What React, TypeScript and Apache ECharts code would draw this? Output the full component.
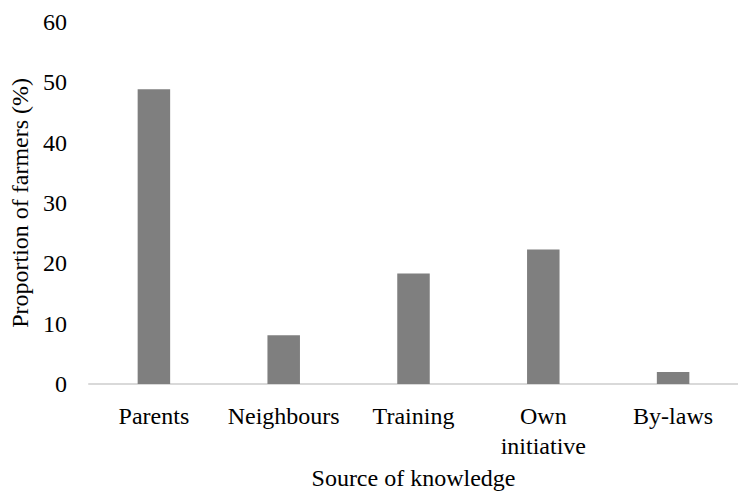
import React, { useEffect, useRef } from "react";
import * as echarts from "echarts";

// Sources from which farmers obtained their knowledge
const categories: string[] = ["Parents", "Neighbours", "Training", "Own initiative", "By-laws"];
// Share of farmers citing each source (%)
const proportions: number[] = [48.8, 8.1, 18.3, 22.3, 2.0];

const yMin = 0;
const yMax = 60;
const yStep = 10;

const FONT = "'Liberation Serif', 'Times New Roman', serif";

export default function App() {
  const ref = useRef<HTMLDivElement>(null);

  useEffect(() => {
    if (!ref.current) return;
    const chart = echarts.init(ref.current, undefined, { renderer: "svg" });
    chart.setOption({
      animation: false,
      backgroundColor: "#ffffff",
      textStyle: { fontFamily: FONT, color: "#000" },
      grid: { left: 89, right: -6, top: 21.7, bottom: 93.3, containLabel: false },
      xAxis: {
        type: "category",
        data: categories,
        name: "Source of knowledge",
        nameLocation: "middle",
        nameGap: 69,
        nameTextStyle: { fontFamily: FONT, fontSize: 24, color: "#000" },
        axisLine: { show: true, lineStyle: { color: "#d9d9d9", width: 2 } },
        axisTick: { show: false },
        axisLabel: {
          fontFamily: FONT,
          fontSize: 24,
          color: "#000",
          margin: 17,
          lineHeight: 30,
          interval: 0,
          formatter: (v: string) => v.replace(" ", "\n"),
        },
      },
      yAxis: {
        type: "value",
        min: yMin,
        max: yMax,
        interval: yStep,
        name: "Proportion of farmers (%)",
        nameLocation: "middle",
        nameGap: 56,
        nameTextStyle: { fontFamily: FONT, fontSize: 24, color: "#000" },
        axisLine: { show: false },
        axisTick: { show: false },
        splitLine: { show: false },
        axisLabel: { fontFamily: FONT, fontSize: 24, color: "#000", margin: 22 },
      },
      series: [
        {
          type: "bar",
          data: proportions,
          barWidth: 32.5,
          itemStyle: { color: "#7f7f7f" },
        },
      ],
    });
    return () => chart.dispose();
  }, []);

  return (
    <div
      ref={ref}
      style={{ position: "fixed", left: 0, top: 0, width: 738, height: 495, background: "#fff" }}
    />
  );
}
